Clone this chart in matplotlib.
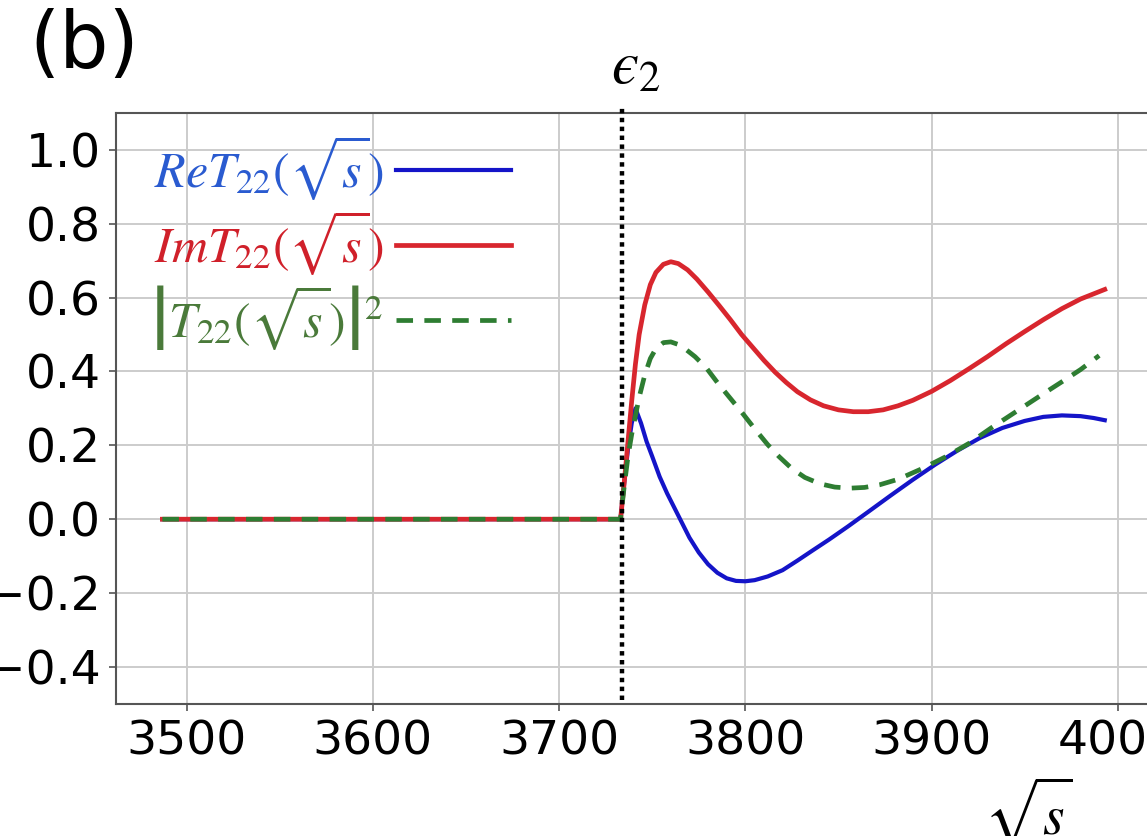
import numpy as np
import matplotlib
matplotlib.use("Agg")
import matplotlib.pyplot as plt
from matplotlib import transforms

plt.rcParams['mathtext.fontset'] = 'stix'
plt.rcParams['font.family'] = 'DejaVu Sans'

# threshold epsilon_2
eps2 = 3734

# Re T22 (blue)
x_re = [3487, 3733, 3735, 3737, 3739, 3741, 3744, 3747, 3750, 3754, 3758, 3762,
        3766, 3770, 3775, 3780, 3785, 3790, 3795, 3800, 3805, 3812, 3820, 3828,
        3836, 3845, 3855, 3866, 3878, 3890, 3902, 3914, 3926, 3938, 3950, 3960,
        3970, 3980, 3987, 3993]
y_re = [0.0, 0.0, 0.10, 0.19, 0.26, 0.30, 0.26, 0.21, 0.17, 0.115, 0.07, 0.03,
        -0.01, -0.05, -0.09, -0.122, -0.145, -0.16, -0.167, -0.168, -0.165, -0.155,
        -0.138, -0.112, -0.085, -0.055, -0.02, 0.02, 0.064, 0.107, 0.148, 0.186,
        0.22, 0.247, 0.266, 0.277, 0.281, 0.279, 0.274, 0.268]

# Im T22 (red)
x_im = [3487, 3733, 3735, 3737, 3739, 3741, 3743, 3746, 3749, 3752, 3756, 3760,
        3764, 3769, 3774, 3780, 3786, 3792, 3798, 3804, 3810, 3816, 3822, 3828,
        3835, 3842, 3850, 3858, 3866, 3874, 3882, 3890, 3900, 3910, 3920, 3930,
        3940, 3950, 3960, 3970, 3980, 3993]
y_im = [0.0, 0.0, 0.10, 0.21, 0.32, 0.42, 0.50, 0.58, 0.635, 0.668, 0.69, 0.697,
        0.692, 0.675, 0.65, 0.615, 0.578, 0.54, 0.50, 0.465, 0.43, 0.398, 0.37, 0.345,
        0.323, 0.307, 0.296, 0.291, 0.291, 0.296, 0.307, 0.322, 0.346, 0.375, 0.407,
        0.44, 0.475, 0.508, 0.54, 0.57, 0.596, 0.622]

# |T22|^2 (green)
x_ab = [3487, 3733, 3735, 3737, 3739, 3741, 3743, 3746, 3749, 3752, 3756, 3760,
        3764, 3768, 3773, 3779, 3785, 3791, 3798, 3805, 3812, 3818, 3825, 3832,
        3840, 3848, 3856, 3864, 3872, 3882, 3895, 3908, 3920, 3932, 3945, 3958,
        3970, 3980, 3990]
y_ab = [0.0, 0.0, 0.09, 0.17, 0.23, 0.28, 0.33, 0.39, 0.435, 0.462, 0.478, 0.48,
        0.473, 0.46, 0.44, 0.41, 0.37, 0.333, 0.29, 0.245, 0.202, 0.17, 0.137, 0.113,
        0.096, 0.087, 0.084, 0.086, 0.093, 0.108, 0.137, 0.17, 0.205, 0.247, 0.29,
        0.333, 0.372, 0.405, 0.443]

fig = plt.figure(figsize=(11.47, 8.36), dpi=100)
ax = fig.add_axes([0.101, 0.158, 0.906, 0.707])

ax.plot(x_re, y_re, color='#1414c8', lw=3.0, label=r'$ReT_{22}(\sqrt{s})$')
ax.plot(x_im, y_im, color='#d8262e', lw=3.4, label=r'$ImT_{22}(\sqrt{s})$')
ax.plot(x_ab, y_ab, color='#2e7d32', lw=3.4, dashes=(3.5, 2.4),
        label=r'$\left|T_{22}(\sqrt{s})\right|^2$')

ax.vlines(eps2, -0.49, 1.12, colors='black', linestyles=(0, (1, 1)), lw=3.2,
          clip_on=False, zorder=5)

ax.set_ylim(-0.5, 1.1)
ax.set_xlim(3462, 4020)
ax.set_xticks([3500, 3600, 3700, 3800, 3900, 4000])
ax.set_yticks([-0.4, -0.2, 0.0, 0.2, 0.4, 0.6, 0.8, 1.0])
ax.tick_params(labelsize=34, pad=6, color='#555555', width=1.2, length=5)
ax.grid(True, color='#cccccc', lw=1.4)
for sp in ax.spines.values():
    sp.set_color('#555555')
    sp.set_linewidth(1.5)

leg = ax.legend(loc='upper left', bbox_to_anchor=(0.033, 0.965), frameon=False,
                markerfirst=False, fontsize=36, handlelength=2.3, handletextpad=0.25,
                labelspacing=0.12, borderpad=0, borderaxespad=0,
                labelcolor=['#2a5bd0', '#d0202a', '#4a7a3a'])

trans = transforms.blended_transform_factory(ax.transData, ax.transAxes)
ax.text(eps2 + 7, 1.049, r'$ϵ_2$', transform=trans, ha='center', va='baseline',
        fontsize=44)

ax.set_xlabel(r'$\sqrt{s}$', fontsize=40, ha='center', va='top')
ax.xaxis.set_label_coords(0.878, -0.12)

fig.text(0.026, 0.99, '(b)', fontsize=56, ha='left', va='top')

fig.savefig('out.png', dpi=100)
